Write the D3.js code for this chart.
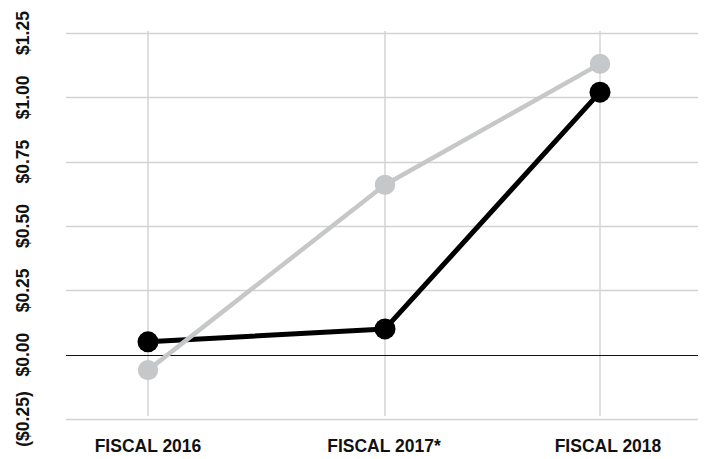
<!DOCTYPE html>
<html>
<head>
<meta charset="utf-8">
<script src="https://cdn.jsdelivr.net/npm/d3@7"></script>
<style>
  html, body { margin: 0; padding: 0; background: #fff; }
  svg { display: block; }
  text { font-family: "Liberation Sans", Arial, sans-serif; font-weight: bold; fill: #111; }
</style>
</head>
<body>
<svg id="chart" width="705" height="459"></svg>
<script>
// Fiscal years and earnings per share for two series
const categories = ["FISCAL 2016", "FISCAL 2017*", "FISCAL 2018"];
const seriesBlack = [0.05, 0.10, 1.02];
const seriesGray = [-0.06, 0.66, 1.13];
const yTicks = [-0.25, 0, 0.25, 0.5, 0.75, 1.0, 1.25];

const svg = d3.select("#chart");
const plot = { left: 66, right: 698, top: 33, bottom: 419 };

const x = d3.scaleOrdinal().domain(categories).range([148, 385, 600]);
const xLabel = d3.scaleOrdinal().domain(categories).range([148, 384, 608]);
const y = d3.scaleLinear().domain([-0.25, 1.25]).range([plot.bottom, plot.top]);

const fmt = v => {
  const s = "$" + Math.abs(v).toFixed(2);
  return v < 0 ? "(" + s + ")" : s;
};

// horizontal gridlines
svg.append("g")
  .selectAll("line")
  .data(yTicks.filter(t => t !== 0))
  .join("line")
  .attr("x1", plot.left).attr("x2", plot.right)
  .attr("y1", d => Math.round(y(d)) + 0.5).attr("y2", d => Math.round(y(d)) + 0.5)
  .attr("stroke", "#d2d2d2").attr("stroke-width", 1.4);

// vertical gridlines
svg.append("g")
  .selectAll("line")
  .data(categories)
  .join("line")
  .attr("x1", d => x(d)).attr("x2", d => x(d))
  .attr("y1", plot.top - 2).attr("y2", plot.bottom - 3)
  .attr("stroke", "#d2d2d2").attr("stroke-width", 1.4);

// zero line
svg.append("line")
  .attr("x1", plot.left).attr("x2", plot.right)
  .attr("y1", Math.round(y(0)) + 0.5).attr("y2", Math.round(y(0)) + 0.5)
  .attr("stroke", "#111").attr("stroke-width", 1);

// y labels, rotated
svg.append("g")
  .selectAll("text")
  .data(yTicks)
  .join("text")
  .attr("transform", d => `translate(29,${y(d)}) rotate(-90)`)
  .attr("text-anchor", "middle")
  .style("font-size", "17.5px")
  .text(fmt);

// x labels
svg.append("g")
  .selectAll("text")
  .data(categories)
  .join("text")
  .attr("x", d => xLabel(d))
  .attr("y", 452)
  .attr("text-anchor", "middle")
  .style("font-size", "17.5px")
  .text(d => d);

const line = d3.line().x((d, i) => x(categories[i])).y(d => y(d));

function drawSeries(values, color, width, r) {
  const g = svg.append("g");
  g.append("path")
    .datum(values)
    .attr("d", line)
    .attr("fill", "none")
    .attr("stroke", color)
    .attr("stroke-width", width)
    .attr("stroke-linejoin", "round");
  g.selectAll("circle")
    .data(values)
    .join("circle")
    .attr("cx", (d, i) => x(categories[i]))
    .attr("cy", d => y(d))
    .attr("r", r)
    .attr("fill", color);
}

drawSeries(seriesBlack, "#000000", 5, 10.5);
drawSeries(seriesGray, "#c5c7c9", 4.5, 10.2);
</script>
</body>
</html>
